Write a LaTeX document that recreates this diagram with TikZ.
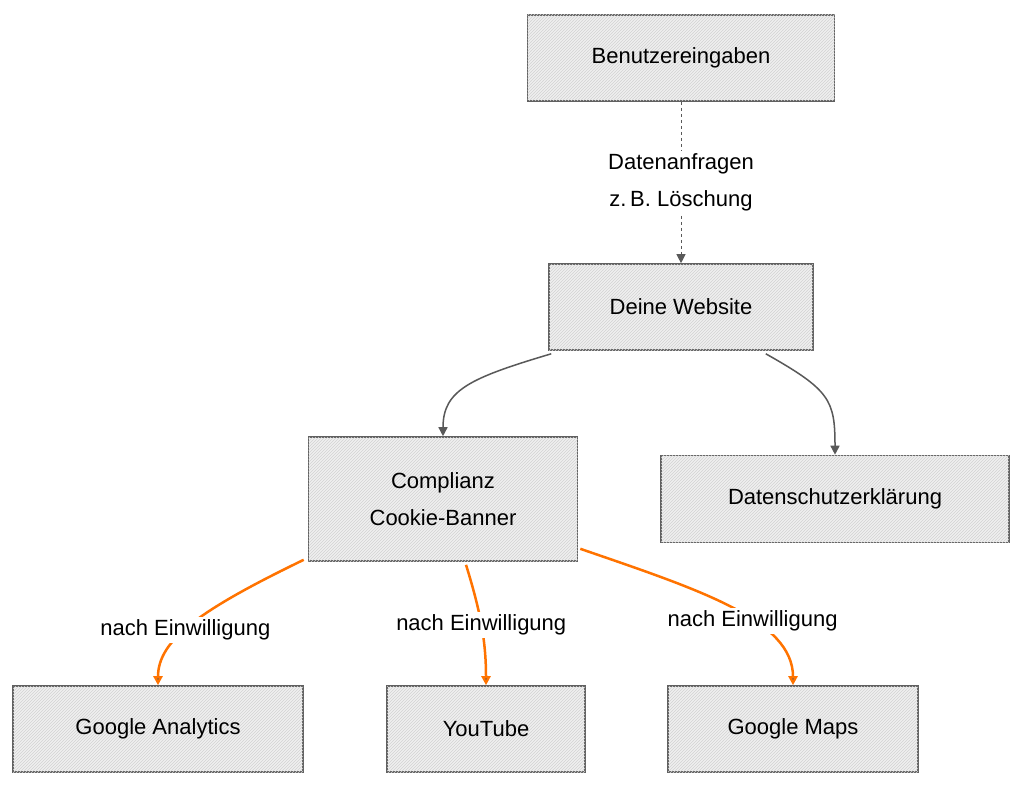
\documentclass[tikz,border=0pt]{standalone}
\usepackage{fontspec}
\setmainfont{Liberation Sans}
\usetikzlibrary{patterns,arrows.meta,calc}
\begin{document}
\begin{tikzpicture}[x=1pt,y=-1pt,
  box/.style={draw=gray!75!black,line width=1.6pt,fill=gray!12,
    postaction={pattern=north east lines,pattern color=gray!35},
    align=center,font=\fontsize{22}{37}\selectfont,inner sep=0pt},
  lab/.style={fill=white,font=\fontsize{22}{37}\selectfont,align=center,inner sep=3pt},
  gline/.style={draw=gray!70!black,line width=1.5pt,-{Triangle[length=9pt,width=9pt]}},
  oline/.style={draw=orange!90!red,line width=2.5pt,-{Triangle[length=9pt,width=9pt,fill=gray!70!black]}}]
\useasboundingbox[fill=white] (0,0) rectangle (1024,789);
\node[box,minimum width=307pt,minimum height=86pt] (be) at (681,58) {Benutzereingaben};
\node[box,minimum width=264pt,minimum height=86pt] (dw) at (681,307) {Deine Website};
\node[box,minimum width=269pt,minimum height=124pt] (cc) at (443,499) {Complianz\\Cookie-Banner};
\node[box,minimum width=348pt,minimum height=87pt] (ds) at (835,499) {Datenschutzerklärung};
\node[box,minimum width=290pt,minimum height=86pt] (ga) at (158,729) {Google Analytics};
\node[box,minimum width=198pt,minimum height=86pt] (yt) at (486,729) {YouTube};
\node[box,minimum width=250pt,minimum height=86pt] (gm) at (793,729) {Google Maps};
\draw[gline,dashed,line width=1pt] (be.south) -- node[lab]{Datenanfragen\\z.\,B. Löschung} (dw.north);
\draw[gline] ($(dw.south west)+(3,3)$) .. controls (470,378) and (443,390) .. (cc.north);
\draw[gline] ($(dw.south east)+(-48,3)$) .. controls (830,390) and (835,400) .. (ds.north);
\draw[oline] ($(cc.south west)+(-4,-2)$) .. controls (200,610) and (158,640) .. node[lab,pos=0.55]{nach Einwilligung} (ga.north);
\draw[oline] ($(cc.south)+(23,3)$) .. controls (480,610) and (486,640) .. node[lab,pos=0.5]{nach Einwilligung} (yt.north);
\draw[oline] ($(cc.south east)+(2,-13)$) .. controls (700,590) and (793,620) .. node[lab,pos=0.6]{nach Einwilligung} (gm.north);
\end{tikzpicture}
\end{document}
